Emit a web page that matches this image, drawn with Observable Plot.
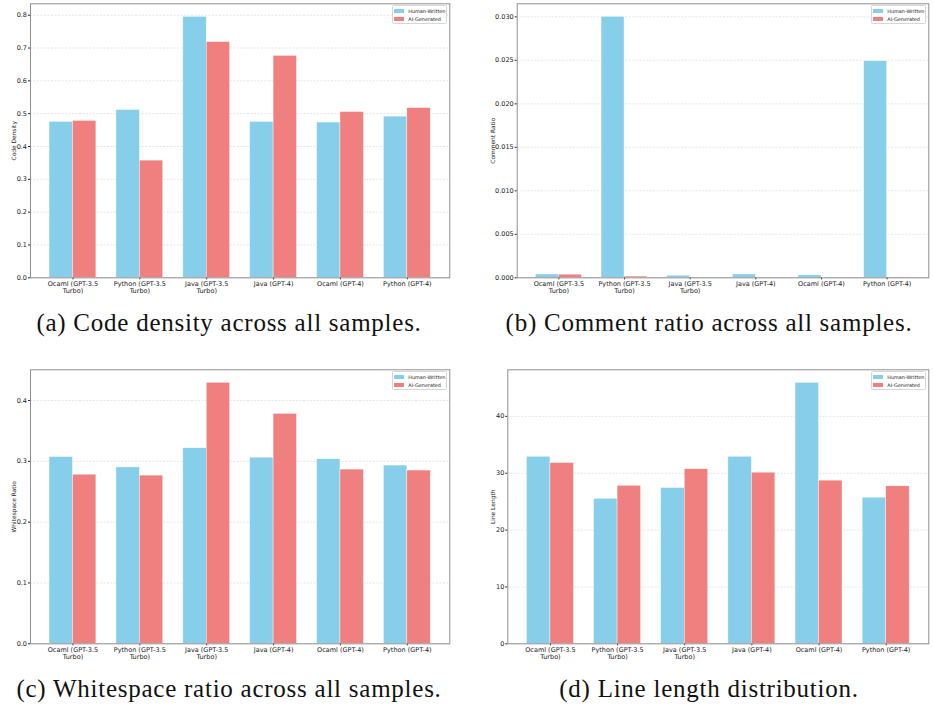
<!DOCTYPE html>
<html>
<head>
<meta charset="utf-8">
<script src="https://cdn.jsdelivr.net/npm/d3@7"></script>
<script src="https://cdn.jsdelivr.net/npm/@observablehq/plot@0.6"></script>
<style>
  html, body { margin: 0; padding: 0; background: white; }
  #root { position: relative; width: 934px; height: 707px; overflow: hidden; background: white; }
  .panel { position: absolute; }
  .legend { position: absolute; box-sizing: border-box; border: 0.7px solid #d6d6d6; border-radius: 1.5px;
            background: rgba(255,255,255,0.85); padding: 0.5px 1.7px 0.5px 1.6px; font-family: "DejaVu Sans"; }
  .legend .row { display: flex; align-items: center; height: 8px; }
  .legend .sw { width: 10px; height: 3.5px; margin-right: 4px; flex: none; }
  .legend .lb { font-size: 4.9px; line-height: 8px; color: #222; white-space: nowrap; }
  .caption { position: absolute; width: 600px; text-align: center; font-family: "Liberation Serif", serif;
             font-size: 25px; line-height: 25px; letter-spacing: 0.75px; color: #111; white-space: nowrap; }
</style>
</head>
<body>
<div id="root"></div>
<script>
// ---------------- data ----------------
const categories = [
  "Ocaml (GPT-3.5 Turbo)", "Python (GPT-3.5 Turbo)", "Java (GPT-3.5 Turbo)",
  "Java (GPT-4)", "Ocaml (GPT-4)", "Python (GPT-4)"
];
const tickLabels = [
  "Ocaml (GPT-3.5\nTurbo)", "Python (GPT-3.5\nTurbo)", "Java (GPT-3.5\nTurbo)",
  "Java (GPT-4)", "Ocaml (GPT-4)", "Python (GPT-4)"
];
const seriesNames = ["Human-Written", "AI-Generated"];
const seriesColors = ["#87CEEB", "#F08080"];

const codeDensityHuman = [0.475, 0.511, 0.795, 0.475, 0.473, 0.491];
const codeDensityAI    = [0.478, 0.357, 0.718, 0.676, 0.505, 0.517];

const commentRatioHuman = [0.00038, 0.0300, 0.00024, 0.00038, 0.00028, 0.0249];
const commentRatioAI    = [0.00036, 0.00014, 0.0, 0.0, 0.0, 0.00004];

const whitespaceHuman = [0.307, 0.290, 0.3215, 0.306, 0.3034, 0.293];
const whitespaceAI    = [0.278, 0.2765, 0.429, 0.378, 0.2864, 0.2848];

const lineLengthHuman = [32.9, 25.5, 27.4, 32.9, 45.9, 25.7];
const lineLengthAI    = [31.8, 27.8, 30.7, 30.1, 28.7, 27.7];

const codeDensityTicks  = [0, 0.1, 0.2, 0.3, 0.4, 0.5, 0.6, 0.7, 0.8];
const commentRatioTicks = [0, 0.005, 0.010, 0.015, 0.020, 0.025, 0.030];
const whitespaceTicks   = [0, 0.1, 0.2, 0.3, 0.4];
const lineLengthTicks   = [0, 10, 20, 30, 40];

const yLabels = ["Code Density", "Comment Ratio", "Whitespace Ratio", "Line Length"];
const captions = [
  "(a) Code density across all samples.",
  "(b) Comment ratio across all samples.",
  "(c) Whitespace ratio across all samples.",
  "(d) Line length distribution."
];

// ---------------- layout ----------------
const panels = [
  {human: codeDensityHuman, ai: codeDensityAI, ticks: codeDensityTicks, fmt: ".1f", label: yLabels[0], caption: captions[0],
   left: 0, top: 0, w: 460, h: 300, mL: 30, mR: 10.7, mT: 3.3, mB: 22.7, labelX: 13.3, capX: 229, capBase: 331},
  {human: commentRatioHuman, ai: commentRatioAI, ticks: commentRatioTicks, fmt: ".3f", label: yLabels[1], caption: captions[1],
   left: 470, top: 0, w: 464, h: 300, mL: 46.7, mR: 5.7, mT: 3.3, mB: 22.7, labelX: 22.3, capX: 709, capBase: 331},
  {human: whitespaceHuman, ai: whitespaceAI, ticks: whitespaceTicks, fmt: ".1f", label: yLabels[2], caption: captions[2],
   left: 0, top: 366, w: 460, h: 300, mL: 30, mR: 10.7, mT: 3.3, mB: 22.7, labelX: 13.3, capX: 229, capBase: 697},
  {human: lineLengthHuman, ai: lineLengthAI, ticks: lineLengthTicks, fmt: "d", label: yLabels[3], caption: captions[3],
   left: 470, top: 366, w: 464, h: 300, mL: 37.3, mR: 5.7, mT: 3.3, mB: 22.7, labelX: 22.3, capX: 709, capBase: 697}
];

const root = document.getElementById("root");
const paddingInner = 0.3, paddingOuter = 0.285;

for (const p of panels) {
  const rows = categories.flatMap((c, i) => [
    {category: c, series: seriesNames[0], value: p.human[i]},
    {category: c, series: seriesNames[1], value: p.ai[i]}
  ]);
  const plotW = p.w - p.mL - p.mR;
  const step = plotW / (categories.length - paddingInner + 2 * paddingOuter);
  const half = step * (1 - paddingInner) / 2;
  const ymax = d3.max([...p.human, ...p.ai]) * 1.05;

  const chart = Plot.plot({
    width: p.w, height: p.h,
    marginLeft: p.mL, marginRight: p.mR, marginTop: p.mT, marginBottom: p.mB,
    style: {fontFamily: "DejaVu Sans", fontSize: "6.5px", color: "#222", background: "transparent", overflow: "visible"},
    x: {type: "band", domain: categories, paddingInner, paddingOuter, round: false, label: null},
    y: {domain: [0, ymax], label: null},
    color: {domain: seriesNames, range: seriesColors},
    marks: [
      Plot.gridY(p.ticks, {stroke: "#b5b5b5", strokeOpacity: 0.6, strokeWidth: 0.6, strokeDasharray: "2,1.5"}),
      Plot.barY(rows.filter(d => d.series === seriesNames[0]),
        {x: "category", y: "value", fill: "series", insetRight: half, stroke: "white", strokeWidth: 0.5, strokeOpacity: 0.8}),
      Plot.barY(rows.filter(d => d.series === seriesNames[1]),
        {x: "category", y: "value", fill: "series", insetLeft: half, stroke: "white", strokeWidth: 0.5, strokeOpacity: 0.8}),
      Plot.axisY({ticks: p.ticks, tickFormat: d3.format(p.fmt), tickSize: 2, tickPadding: 1.5, label: null, fontSize: 6.5}),
      Plot.axisX({tickFormat: d => tickLabels[categories.indexOf(d)], tickSize: 2, tickPadding: 0.8, label: null,
                  fontSize: 6.5, lineHeight: 1.08}),
      Plot.text([p.label], {text: d => d, frameAnchor: "left", dx: p.labelX - p.mL, rotate: -90,
                            textAnchor: "middle", lineAnchor: "middle", fontSize: 5.9, fill: "#222"}),
      Plot.frame({stroke: "#8f8f8f", strokeWidth: 1})
    ]
  });
  const wrap = document.createElement("div");
  wrap.className = "panel";
  wrap.style.left = p.left + "px";
  wrap.style.top = p.top + "px";
  wrap.style.width = p.w + "px";
  wrap.style.height = p.h + "px";
  wrap.appendChild(chart);
  root.appendChild(wrap);

  // legend, upper right inside the frame
  const lg = document.createElement("div");
  lg.className = "legend";
  lg.style.left = (p.left + p.w - p.mR - 2.6 - 55) + "px";
  lg.style.top = (p.top + p.mT + 2) + "px";
  lg.style.width = "55px";
  seriesNames.forEach((name, i) => {
    const row = document.createElement("div");
    row.className = "row";
    const sw = document.createElement("div");
    sw.className = "sw";
    sw.style.background = seriesColors[i];
    const lb = document.createElement("div");
    lb.className = "lb";
    lb.textContent = name;
    row.appendChild(sw); row.appendChild(lb);
    lg.appendChild(row);
  });
  root.appendChild(lg);

  // caption
  const cap = document.createElement("div");
  cap.className = "caption";
  cap.textContent = p.caption;
  cap.style.left = (p.capX - 300) + "px";
  cap.style.top = (p.capBase - 21) + "px";
  root.appendChild(cap);
}
</script>
</body>
</html>
